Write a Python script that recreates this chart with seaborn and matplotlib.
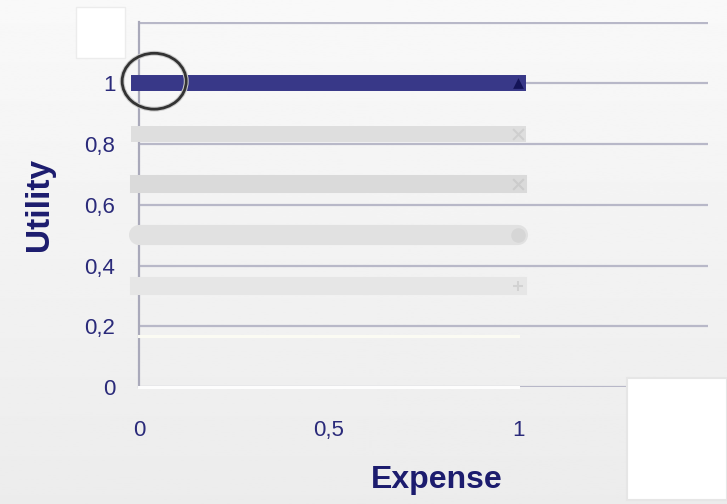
"""
Utility vs expense chart: constant utility levels drawn as thick bands.
"""

import numpy as np
import pandas as pd
import seaborn as sns
from matplotlib import pyplot as plt
from matplotlib.patches import Ellipse, Rectangle

# data
utility_levels = [1.0, 0.833, 0.667, 0.5, 0.333, 0.167, 0.0]
expense_range = [0.0, 1.0]
end_markers = ['^', 'x', 'x', 'o', '+', None, None]
x_ticks = [0, 0.5, 1]
x_tick_labels = ['0', '0,5', '1']
y_ticks = [0, 0.2, 0.4, 0.6, 0.8, 1.0]
y_tick_labels = ['0', '0,2', '0,4', '0,6', '0,8', '1']

# styling
band_colors = ['#383888', '#dedede', '#dadada', '#e1e1e1', '#e6e6e6', '#fbfbf3', '#fdfdfd']
band_widths = [11.5, 11.5, 13, 14.5, 13, 2.2, 2.2]
marker_colors = ['#141458', '#cfcfcf', '#cccccc', '#d6d6d6', '#d2d2d2', None, None]
navy = '#1c1c6e'

sns.set_theme(style='white')
plt.rcParams['font.family'] = ['Liberation Sans', 'DejaVu Sans']

fig = plt.figure(figsize=(7.27, 5.04), dpi=100)

# soft grey gradient background
bg = fig.add_axes([0, 0, 1, 1], zorder=-10)
grad = np.linspace(0.975, 0.925, 256).reshape(-1, 1)
bg.imshow(grad, cmap='gray', vmin=0, vmax=1, aspect='auto', extent=(0, 1, 0, 1))
bg.axis('off')

ax = fig.add_axes([139 / 727, 117 / 504, 569 / 727, 365 / 504])
ax.set_facecolor('none')

for lvl, col, lw, mk, mcol in zip(utility_levels, band_colors, band_widths, end_markers, marker_colors):
    df = pd.DataFrame({'expense': expense_range, 'utility': [lvl, lvl]})
    sns.lineplot(df, x='expense', y='utility', color=col, linewidth=lw, ax=ax,
                 solid_capstyle='round' if mk == 'o' else 'projecting', zorder=3)
    ax.lines[-1].set_clip_on(False)
    if mk is not None:
        ms = 60 if mk != 'o' else 110
        sns.scatterplot(x=[expense_range[-1]], y=[lvl], marker=mk, s=ms, color=mcol,
                        linewidth=1.5 if mk in ('x', '+') else 0, ax=ax, zorder=4)

# highlight circle around the first point of the top band
for ec, lw, z in [('#cccccc', 3.5, 5), ('#333333', 2, 6)]:
    ax.add_patch(Ellipse((0.04, 1.007), 0.169, 0.184, fill=False, edgecolor=ec, lw=lw,
                         zorder=z, clip_on=False))

ax.set_xlim(0, 1.5)
ax.set_ylim(0, 1.202)
ax.yaxis.grid(True, color='#b8b8c8', linewidth=1.6)
ax.set_axisbelow(True)
ax.set_xticks(x_ticks, x_tick_labels)
ax.set_yticks(y_ticks + [1.2], y_tick_labels + [''])
ax.tick_params(axis='both', length=0, labelsize=16, labelcolor='#2a2a7a')
ax.tick_params(axis='x', pad=24)
ax.tick_params(axis='y', pad=17)
for side in ['top', 'right', 'bottom']:
    ax.spines[side].set_visible(False)
ax.spines['left'].set_color('#a9a9ba')
ax.spines['left'].set_linewidth(1.6)

ax.set_xlabel('Expense', fontsize=23, fontweight='bold', color=navy)
ax.set_ylabel('Utility', fontsize=24, fontweight='bold', color=navy)
ax.xaxis.set_label_coords(0.524, -0.215)
ax.yaxis.set_label_coords(-0.148, 0.5)

# empty white boxes (legend / title placeholders)
fig.patches.append(Rectangle((76 / 727, 446 / 504), 49 / 727, 51 / 504, transform=fig.transFigure,
                             facecolor='white', edgecolor='#ececec', lw=1, zorder=10))
fig.patches.append(Rectangle((627 / 727, 4 / 504), 100 / 727, 122 / 504, transform=fig.transFigure,
                             facecolor='white', edgecolor='#e6e6e6', lw=1.5, zorder=10))

fig.savefig('out.png', dpi=100)
